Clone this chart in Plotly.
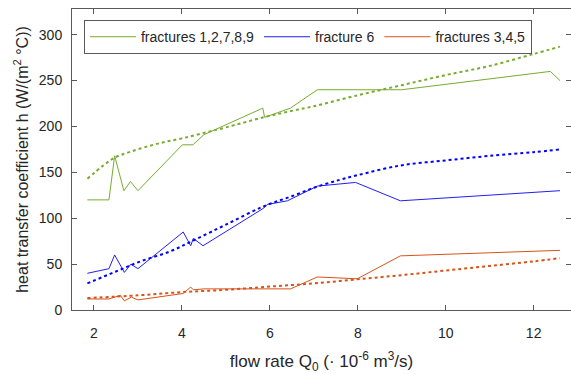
import plotly.graph_objects as go

# fractures 1,2,7,8,9 (green)
g_x = [1.85, 2.34, 2.47, 2.68, 2.83, 3.0, 4.01, 4.25, 4.5, 5.84, 5.88, 6.47, 7.08, 9.0, 12.38, 12.6]
g_y = [120, 120, 168, 130, 140, 130, 180, 180, 191, 220, 210, 220, 240, 240, 260, 250]
g_fit_x = [1.85, 2.2, 2.47, 2.8, 3.2, 3.6, 4.0, 4.5, 5.0, 5.86, 6.5, 7.0, 8.0, 9.0, 10.0, 11.0, 12.0, 12.6]
g_fit_y = [143, 157, 166, 172, 178, 183, 187, 193, 199, 210, 217, 222, 234, 245, 256, 266, 279, 287]

# fracture 6 (blue)
b_x = [1.85, 2.34, 2.47, 2.69, 2.84, 3.0, 4.03, 4.2, 4.26, 4.48, 5.86, 5.94, 6.4, 7.08, 7.95, 8.97, 12.6]
b_y = [40, 45, 60, 41, 50, 45, 85, 70, 78, 70, 111, 115, 119, 135, 139, 119, 130]
b_fit_x = [1.85, 2.5, 3.06, 3.74, 4.27, 5.0, 5.86, 6.5, 7.08, 7.6, 8.0, 8.97, 10.0, 11.0, 12.0, 12.6]
b_fit_y = [29, 42, 53, 64, 76, 93, 113, 124, 134.5, 142, 147, 157.5, 163, 168, 172, 175]

# fractures 3,4,5 (orange)
o_x = [1.85, 2.34, 2.6, 2.69, 2.85, 3.0, 4.03, 4.2, 4.26, 4.5, 6.47, 7.08, 7.99, 8.97, 12.6]
o_y = [12, 12, 16, 10, 14, 11, 18, 25, 22, 23, 23, 36, 34, 59, 65]
o_fit_x = [1.85, 3.0, 4.0, 5.0, 6.0, 7.0, 8.0, 9.0, 10.0, 11.0, 12.0, 12.6]
o_fit_y = [13, 16, 19.5, 22, 25.5, 29, 33.5, 38, 43, 48, 53, 56.5]

x_ticks = [2, 4, 6, 8, 10, 12]
y_ticks = [0, 50, 100, 150, 200, 250, 300]

GREEN = "#77AC30"
BLUE = "#2020f0"
ORANGE = "#D95319"

fig = go.Figure()
fig.add_trace(go.Scatter(x=g_x, y=g_y, mode="lines", name="fractures 1,2,7,8,9",
                         line=dict(color=GREEN, width=1)))
fig.add_trace(go.Scatter(x=b_x, y=b_y, mode="lines", name="fracture 6",
                         line=dict(color=BLUE, width=1)))
fig.add_trace(go.Scatter(x=o_x, y=o_y, mode="lines", name="fractures 3,4,5",
                         line=dict(color=ORANGE, width=1)))
fig.add_trace(go.Scatter(x=g_fit_x, y=g_fit_y, mode="lines", showlegend=False,
                         line=dict(color=GREEN, width=2, dash="dot", shape="spline")))
fig.add_trace(go.Scatter(x=b_fit_x, y=b_fit_y, mode="lines", showlegend=False,
                         line=dict(color="#0000ff", width=2, dash="dot", shape="spline")))
fig.add_trace(go.Scatter(x=o_fit_x, y=o_fit_y, mode="lines", showlegend=False,
                         line=dict(color=ORANGE, width=2, dash="dot", shape="spline")))

axis_common = dict(showgrid=False, zeroline=False, showline=True, linecolor="#5a5a5a",
                   linewidth=1, mirror="ticks", ticks="inside", ticklen=5, tickcolor="#5a5a5a",
                   tickfont=dict(size=14, color="#262626"))

fig.update_layout(
    width=571, height=374,
    margin=dict(l=72, r=0, t=9, b=64),
    paper_bgcolor="white", plot_bgcolor="white",
    font=dict(family="Liberation Sans, Arial, sans-serif", color="#262626"),
    xaxis=dict(range=[1.5, 12.85], tickvals=x_ticks, ticklabelstandoff=10,
               title=dict(text="flow rate Q<sub>0</sub> (· 10<sup>-6</sup> m<sup>3</sup>/s)",
                          font=dict(size=17), standoff=17),
               **axis_common),
    yaxis=dict(range=[0, 328], tickvals=y_ticks, ticklabelstandoff=6,
               title=dict(text="heat transfer coefficient h (W/(m<sup>2</sup> °C))",
                          font=dict(size=16), standoff=6),
               **axis_common),
    legend=dict(orientation="h", x=0.024, y=0.963, xanchor="left", yanchor="top",
                bordercolor="#5a5a5a", borderwidth=1, bgcolor="white",
                itemwidth=46, tracegroupgap=0,
                font=dict(size=14, color="#262626")),
    showlegend=True,
)

fig.write_html("out.html")
